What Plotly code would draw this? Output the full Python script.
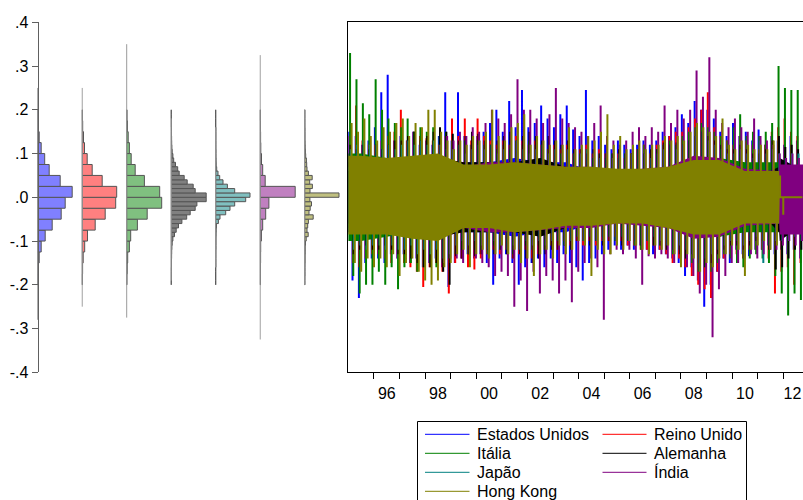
import plotly.graph_objects as go

W, H = 803, 500
FONT = "Liberation Sans, Arial, sans-serif"

# ---------------- series meta ----------------
names = ["Estados Unidos", "Reino Unido", "Itália", "Alemanha", "Japão", "Índia", "Hong Kong"]
line_colors = ["#0000FF", "#FF0000", "#008000", "#000000", "#008080", "#800080", "#808000"]
hist_colors = ["#8080FF", "#FF8080", "#80C080", "#808080", "#80C0C0", "#C080C0", "#C0C080"]

# ---------------- histogram data (bins start at -0.2) ----------------
hist_bin_width = [0.025, 0.025, 0.025, 0.01, 0.01, 0.025, 0.01]
freq_us = [0.3, 0.5, 1.5, 3.5, 7.5, 14.5, 23.5, 27.5, 34.5, 22.5, 11.5, 7.0, 3.5, 1.5, 0.7, 0.3]
freq_uk = [0.2, 0.4, 1.0, 2.5, 5.3, 13.0, 23.0, 33.5, 34.5, 20.0, 10.0, 5.0, 2.3, 1.3, 0.5, 0.2]
freq_it = [0.2, 0.5, 1.0, 2.7, 4.0, 10.7, 20.5, 35.0, 33.0, 17.7, 8.5, 4.5, 2.7, 1.5, 0.7, 0.3]
freq_de = [0, 0.2, 0.2, 0.2, 0.3, 0.3, 0.4, 0.5, 0.7, 1.0, 1.7, 3.3, 5.0, 7.3, 10.7, 15.5, 19.0, 24.0, 25.7, 35.0,
           35.0, 24.0, 22.0, 16.0, 13.0, 8.0, 6.5, 4.3, 2.5, 1.7, 1.0, 0.7, 0.5, 0.4, 0.3, 0.3, 0.2, 0.2, 0, 0]
freq_jp = [0, 0, 0, 0, 0.2, 0.2, 0.2, 0.2, 0.3, 0.3, 0.3, 0.4, 0.5, 0.8, 2.7, 4.3, 10.0, 14.3, 19.0, 30.0,
           34.3, 19.0, 11.7, 7.3, 4.0, 2.3, 1.0, 0.5, 0.4, 0.3, 0.3, 0.2, 0.2, 0.2, 0.2, 0.2, 0, 0, 0, 0]
freq_in = [0.3, 0.3, 0.4, 0.5, 1.2, 2.5, 5.5, 8.7, 35.0, 5.0, 2.5, 1.3, 0.6, 0.4, 0.3, 0.2]
freq_hk = [0.2, 0.2, 0.3, 0.3, 0.3, 0.4, 0.4, 0.5, 0.5, 0.8, 1.5, 3.5, 2.3, 3.0, 3.7, 8.5, 4.3, 5.5, 6.8, 5.2,
           34.3, 5.3, 7.7, 5.0, 7.5, 3.7, 2.3, 2.0, 1.7, 1.0, 0.7, 0.5, 0.4, 0.3, 0.3, 0.3, 0.2, 0.2, 0.2, 0.2]
hist_freqs = [freq_us, freq_uk, freq_it, freq_de, freq_jp, freq_in, freq_hk]
hist_min = [-0.28, -0.25, -0.275, -0.19, -0.16, -0.325, -0.20]
hist_max = [0.25, 0.25, 0.35, 0.18, 0.16, 0.325, 0.20]

y_ticks = [-0.4, -0.3, -0.2, -0.1, 0.0, 0.1, 0.2, 0.3, 0.4]
y_tick_text = ["-.4", "-.3", "-.2", "-.1", ".0", ".1", ".2", ".3", ".4"]
year_ticks = list(range(1996, 2013))
year_label_pos = [1996.5, 1998.5, 2000.5, 2002.5, 2004.5, 2006.5, 2008.5, 2010.5, 2012.36]
year_labels = ["96", "98", "00", "02", "04", "06", "08", "10", "12"]

# ---------------- time series: quarterly spike highs / lows (1995Q1 .. 2012Q3) ----------------
us_hi = [0.15, 0.14, 0.12, 0.13, 0.16, 0.24, 0.28, 0.13, 0.14, 0.13, 0.15, 0.12, 0.13, 0.12, 0.14, 0.24,
         0.13, 0.24, 0.14, 0.12, 0.14, 0.15, 0.17, 0.20, 0.15, 0.22, 0.16, 0.245, 0.16, 0.17, 0.21, 0.18,
         0.16, 0.19, 0.21, 0.155, 0.14, 0.245, 0.13, 0.14, 0.12, 0.11, 0.13, 0.12, 0.11, 0.12, 0.13, 0.12,
         0.13, 0.15, 0.14, 0.16, 0.19, 0.17, 0.22, 0.20, 0.20, 0.18, 0.15, 0.14, 0.17, 0.14, 0.15, 0.13,
         0.155, 0.12, 0.14, 0.13, 0.12, 0.14, 0.13]
us_lo = [-0.19, -0.23, -0.15, -0.14, -0.14, -0.15, -0.13, -0.14, -0.13, -0.15, -0.14, -0.16, -0.15, -0.14, -0.16, -0.205,
         -0.15, -0.14, -0.13, -0.14, -0.13, -0.15, -0.20, -0.14, -0.13, -0.15, -0.20, -0.16, -0.15, -0.14, -0.16, -0.14,
         -0.15, -0.13, -0.15, -0.16, -0.19, -0.15, -0.14, -0.13, -0.12, -0.11, -0.12, -0.11, -0.12, -0.11, -0.12, -0.13,
         -0.12, -0.13, -0.14, -0.15, -0.18, -0.16, -0.19, -0.25, -0.20, -0.17, -0.14, -0.15, -0.12, -0.13, -0.135, -0.12,
         -0.12, -0.11, -0.13, -0.12, -0.13, -0.12, -0.14]
uk_hi = [0.14, 0.21, 0.13, 0.12, 0.12, 0.13, 0.14, 0.15, 0.20, 0.13, 0.15, 0.14, 0.135, 0.13, 0.12, 0.14,
         0.18, 0.14, 0.18, 0.13, 0.18, 0.14, 0.13, 0.12, 0.13, 0.12, 0.14, 0.13, 0.12, 0.13, 0.12, 0.11,
         0.12, 0.11, 0.12, 0.10, 0.11, 0.12, 0.10, 0.11, 0.10, 0.09, 0.10, 0.09, 0.10, 0.11, 0.12, 0.10,
         0.12, 0.13, 0.14, 0.15, 0.15, 0.16, 0.18, 0.20, 0.24, 0.16, 0.14, 0.13, 0.12, 0.14, 0.13, 0.12,
         0.11, 0.12, 0.15, 0.16, 0.18, 0.15, 0.14]
uk_lo = [-0.15, -0.16, -0.14, -0.13, -0.13, -0.14, -0.15, -0.14, -0.15, -0.16, -0.17, -0.205, -0.16, -0.15, -0.17, -0.22,
         -0.15, -0.14, -0.16, -0.165, -0.14, -0.13, -0.12, -0.13, -0.12, -0.14, -0.13, -0.12, -0.14, -0.13, -0.12, -0.11,
         -0.12, -0.10, -0.11, -0.10, -0.11, -0.10, -0.11, -0.10, -0.10, -0.09, -0.10, -0.11, -0.11, -0.12, -0.12, -0.11,
         -0.12, -0.13, -0.15, -0.14, -0.16, -0.18, -0.20, -0.21, -0.23, -0.17, -0.14, -0.13, -0.13, -0.14, -0.12, -0.12,
         -0.12, -0.14, -0.22, -0.17, -0.16, -0.20, -0.15]
it_hi = [0.33, 0.27, 0.215, 0.19, 0.27, 0.20, 0.18, 0.17, 0.16, 0.18, 0.15, 0.16, 0.15, 0.16, 0.14, 0.15,
         0.13, 0.12, 0.13, 0.12, 0.13, 0.12, 0.12, 0.11, 0.12, 0.11, 0.13, 0.12, 0.13, 0.12, 0.12, 0.11,
         0.11, 0.10, 0.11, 0.10, 0.10, 0.11, 0.09, 0.10, 0.09, 0.10, 0.09, 0.10, 0.10, 0.11, 0.12, 0.10,
         0.11, 0.12, 0.13, 0.12, 0.14, 0.15, 0.16, 0.17, 0.16, 0.15, 0.14, 0.13, 0.16, 0.19, 0.14, 0.15,
         0.14, 0.15, 0.17, 0.30, 0.25, 0.245, 0.245]
it_lo = [-0.18, -0.22, -0.20, -0.20, -0.17, -0.20, -0.16, -0.21, -0.16, -0.15, -0.17, -0.16, -0.15, -0.16, -0.15, -0.14,
         -0.13, -0.12, -0.13, -0.12, -0.12, -0.13, -0.11, -0.12, -0.12, -0.13, -0.12, -0.11, -0.12, -0.11, -0.12, -0.11,
         -0.10, -0.11, -0.10, -0.09, -0.10, -0.09, -0.10, -0.09, -0.09, -0.10, -0.09, -0.10, -0.11, -0.12, -0.10, -0.11,
         -0.11, -0.12, -0.13, -0.12, -0.14, -0.15, -0.17, -0.16, -0.17, -0.15, -0.13, -0.14, -0.15, -0.16, -0.14, -0.13,
         -0.14, -0.15, -0.18, -0.22, -0.27, -0.22, -0.235]
de_hi = [0.12, 0.11, 0.12, 0.11, 0.12, 0.11, 0.12, 0.13, 0.13, 0.14, 0.15, 0.13, 0.14, 0.15, 0.16, 0.15,
         0.145, 0.13, 0.14, 0.15, 0.145, 0.13, 0.12, 0.13, 0.14, 0.15, 0.13, 0.14, 0.15, 0.14, 0.13, 0.14,
         0.13, 0.12, 0.13, 0.11, 0.11, 0.10, 0.11, 0.10, 0.10, 0.10, 0.11, 0.10, 0.10, 0.11, 0.10, 0.11,
         0.11, 0.125, 0.12, 0.125, 0.12, 0.13, 0.14, 0.15, 0.14, 0.13, 0.12, 0.11, 0.11, 0.12, 0.11, 0.10,
         0.10, 0.11, 0.13, 0.14, 0.115, 0.12, 0.11]
de_lo = [-0.13, -0.12, -0.11, -0.12, -0.12, -0.11, -0.12, -0.13, -0.13, -0.14, -0.15, -0.16, -0.16, -0.15, -0.17, -0.20,
         -0.135, -0.14, -0.13, -0.135, -0.13, -0.12, -0.13, -0.12, -0.13, -0.14, -0.13, -0.14, -0.15, -0.14, -0.13, -0.12,
         -0.12, -0.11, -0.12, -0.10, -0.10, -0.11, -0.10, -0.11, -0.10, -0.10, -0.11, -0.10, -0.10, -0.11, -0.10, -0.11,
         -0.11, -0.12, -0.12, -0.13, -0.14, -0.13, -0.15, -0.16, -0.15, -0.13, -0.12, -0.11, -0.11, -0.12, -0.11, -0.10,
         -0.10, -0.12, -0.165, -0.16, -0.14, -0.12, -0.12]
jp_hi = [0.11, 0.12, 0.13, 0.12, 0.12, 0.11, 0.12, 0.11, 0.12, 0.13, 0.12, 0.13, 0.12, 0.13, 0.12, 0.11,
         0.11, 0.12, 0.10, 0.11, 0.12, 0.11, 0.12, 0.10, 0.11, 0.12, 0.13, 0.11, 0.10, 0.11, 0.12, 0.10,
         0.11, 0.10, 0.11, 0.10, 0.10, 0.11, 0.10, 0.09, 0.10, 0.09, 0.10, 0.11, 0.10, 0.11, 0.10, 0.09,
         0.10, 0.11, 0.12, 0.11, 0.12, 0.13, 0.14, 0.15, 0.13, 0.12, 0.11, 0.10, 0.10, 0.11, 0.10, 0.09,
         0.13, 0.10, 0.11, 0.10, 0.09, 0.10, 0.10]
jp_lo = [-0.12, -0.11, -0.12, -0.11, -0.11, -0.12, -0.11, -0.12, -0.12, -0.11, -0.13, -0.12, -0.13, -0.12, -0.14, -0.13,
         -0.11, -0.10, -0.11, -0.10, -0.11, -0.12, -0.10, -0.11, -0.12, -0.11, -0.12, -0.10, -0.11, -0.10, -0.11, -0.10,
         -0.10, -0.11, -0.10, -0.09, -0.10, -0.09, -0.10, -0.10, -0.09, -0.10, -0.09, -0.10, -0.10, -0.11, -0.10, -0.09,
         -0.10, -0.11, -0.12, -0.11, -0.12, -0.13, -0.15, -0.14, -0.13, -0.12, -0.11, -0.10, -0.10, -0.11, -0.10, -0.09,
         -0.15, -0.11, -0.10, -0.10, -0.10, -0.09, -0.10]
in_hi = [None] * 14 + [
         0.12, 0.14,
         0.13, 0.15, 0.14, 0.16, 0.15, 0.17, 0.20, 0.18, 0.17, 0.19, 0.27, 0.20, 0.20, 0.18, 0.17, 0.19,
         0.25, 0.18, 0.17, 0.16, 0.15, 0.14, 0.17, 0.21, 0.14, 0.13, 0.12, 0.13, 0.15, 0.16, 0.14, 0.16,
         0.15, 0.21, 0.17, 0.20, 0.18, 0.20, 0.29, 0.23, 0.32, 0.20, 0.17, 0.16, 0.18, 0.16, 0.15, 0.18,
         0.14, 0.13, 0.12, 0.10, 0.09, 0.10, 0.09]
in_lo = [None] * 14 + [
         -0.15, -0.14,
         -0.14, -0.15, -0.13, -0.14, -0.15, -0.16, -0.18, -0.17, -0.18, -0.25, -0.19, -0.26, -0.17, -0.22, -0.18, -0.19,
         -0.22, -0.19, -0.24, -0.17, -0.15, -0.14, -0.16, -0.28, -0.13, -0.12, -0.13, -0.12, -0.14, -0.20, -0.135, -0.14,
         -0.13, -0.14, -0.15, -0.14, -0.16, -0.18, -0.22, -0.20, -0.32, -0.21, -0.18, -0.15, -0.15, -0.14, -0.13, -0.14,
         -0.13, -0.12, -0.12, -0.11, -0.10, -0.11, -0.10]
hk_hi = [0.17, 0.15, 0.18, 0.14, 0.13, 0.16, 0.15, 0.17, 0.18, 0.14, 0.17, 0.16, 0.20, 0.20, 0.15, 0.13,
         0.11, 0.13, 0.12, 0.14, 0.13, 0.15, 0.20, 0.14, 0.13, 0.16, 0.17, 0.19, 0.12, 0.14, 0.13, 0.12,
         0.13, 0.12, 0.16, 0.11, 0.12, 0.14, 0.13, 0.15, 0.19, 0.12, 0.14, 0.11, 0.12, 0.13, 0.11, 0.12,
         0.12, 0.14, 0.13, 0.14, 0.13, 0.15, 0.17, 0.16, 0.15, 0.14, 0.18, 0.12, 0.11, 0.13, 0.12, 0.11,
         0.12, 0.11, 0.13, 0.05, 0.0, 0.0, 0.0]
hk_lo = [-0.15, -0.17, -0.14, -0.16, -0.14, -0.16, -0.13, -0.18, -0.15, -0.14, -0.17, -0.19, -0.20, -0.19, -0.16, -0.15,
         -0.13, -0.12, -0.16, -0.13, -0.12, -0.14, -0.13, -0.11, -0.13, -0.12, -0.15, -0.14, -0.18, -0.13, -0.12, -0.14,
         -0.11, -0.13, -0.12, -0.10, -0.11, -0.18, -0.12, -0.13, -0.13, -0.11, -0.12, -0.10, -0.11, -0.12, -0.13, -0.11,
         -0.12, -0.11, -0.13, -0.16, -0.13, -0.14, -0.17, -0.15, -0.16, -0.14, -0.13, -0.11, -0.12, -0.18, -0.12, -0.11,
         -0.10, -0.12, -0.11, -0.04, 0.0, 0.0, 0.0]
series_hi = [us_hi, uk_hi, it_hi, de_hi, jp_hi, in_hi, hk_hi]
series_lo = [us_lo, uk_lo, it_lo, de_lo, jp_lo, in_lo, hk_lo]

# ---------------- dense core band of each series, read at these dates ----------------
core_times = [1995.0, 1995.5, 1996.5, 1997.5, 1998.5, 1999.5, 2000.5, 2001.5, 2002.5, 2003.5, 2004.5,
              2005.5, 2006.5, 2007.5, 2008.5, 2009.5, 2010.5, 2011.5, 2011.84, 2011.86, 2012.8]
core_hi_us = [0.08, 0.08, 0.08, 0.08, 0.09, 0.08, 0.08, 0.09, 0.08, 0.08, 0.06, 0.05, 0.05, 0.06, 0.09, 0.09, 0.07, 0.07, 0.07, 0.06, 0.06]
core_lo_us = [-0.08, -0.08, -0.08, -0.08, -0.09, -0.08, -0.08, -0.09, -0.08, -0.08, -0.06, -0.05, -0.05, -0.06, -0.09, -0.09, -0.07, -0.07, -0.07, -0.06, -0.06]
core_hi_uk = [0.07, 0.07, 0.07, 0.08, 0.09, 0.08, 0.07, 0.07, 0.07, 0.06, 0.05, 0.05, 0.05, 0.06, 0.09, 0.09, 0.07, 0.07, 0.07, 0.06, 0.06]
core_lo_uk = [-0.07, -0.07, -0.07, -0.08, -0.09, -0.08, -0.07, -0.07, -0.07, -0.06, -0.05, -0.05, -0.05, -0.06, -0.09, -0.09, -0.07, -0.07, -0.07, -0.06, -0.06]
core_hi_it = [0.10, 0.10, 0.09, 0.08, 0.09, 0.07, 0.07, 0.07, 0.07, 0.06, 0.05, 0.05, 0.05, 0.06, 0.09, 0.09, 0.08, 0.08, 0.08, 0.07, 0.07]
core_lo_it = [-0.10, -0.10, -0.09, -0.08, -0.09, -0.07, -0.07, -0.07, -0.07, -0.06, -0.05, -0.05, -0.05, -0.06, -0.09, -0.09, -0.08, -0.08, -0.08, -0.07, -0.07]
core_hi_de = [0.06, 0.06, 0.06, 0.07, 0.09, 0.08, 0.08, 0.08, 0.09, 0.07, 0.06, 0.05, 0.05, 0.06, 0.09, 0.08, 0.06, 0.06, 0.07, 0.09, 0.06]
core_lo_de = [-0.06, -0.06, -0.06, -0.07, -0.09, -0.08, -0.08, -0.08, -0.09, -0.07, -0.06, -0.05, -0.05, -0.06, -0.09, -0.08, -0.06, -0.06, -0.08, -0.10, -0.06]
core_hi_jp = [0.07, 0.07, 0.07, 0.07, 0.08, 0.07, 0.07, 0.07, 0.06, 0.06, 0.06, 0.05, 0.06, 0.06, 0.08, 0.07, 0.06, 0.06, 0.06, 0.05, 0.05]
core_lo_jp = [-0.07, -0.07, -0.07, -0.07, -0.08, -0.07, -0.07, -0.07, -0.06, -0.06, -0.06, -0.05, -0.06, -0.06, -0.08, -0.07, -0.06, -0.06, -0.06, -0.05, -0.05]
core_hi_in = [None, None, None, None, 0.06, 0.07, 0.08, 0.08, 0.075, 0.07, 0.07, 0.06, 0.065, 0.07, 0.095, 0.09, 0.065, 0.06, 0.06, 0.075, 0.075]
core_lo_in = [None, None, None, None, -0.06, -0.07, -0.08, -0.08, -0.075, -0.07, -0.07, -0.06, -0.065, -0.07, -0.095, -0.09, -0.065, -0.06, -0.06, -0.085, -0.085]
core_hi_hk = [0.095, 0.095, 0.09, 0.095, 0.10, 0.075, 0.075, 0.08, 0.075, 0.07, 0.07, 0.065, 0.065, 0.07, 0.085, 0.085, 0.06, 0.06, 0.06, 0.0, 0.0]
core_lo_hk = [-0.085, -0.085, -0.085, -0.095, -0.10, -0.07, -0.07, -0.08, -0.075, -0.065, -0.065, -0.06, -0.06, -0.07, -0.085, -0.085, -0.06, -0.06, -0.06, 0.0, 0.0]
core_hi = [core_hi_us, core_hi_uk, core_hi_it, core_hi_de, core_hi_jp, core_hi_in, core_hi_hk]
core_lo = [core_lo_us, core_lo_uk, core_lo_it, core_lo_de, core_lo_jp, core_lo_in, core_lo_hk]

# ---------------- layout geometry (pixels) ----------------
def fx(px):
    return px / W

def fy(py):
    return 1 - py / H

Y_DOMAIN = [fy(372.3), fy(22.3)]
hist_base_px = [37.7, 82.2, 126.7, 171.2, 215.7, 260.2, 304.7]
HIST_W = 44
TS_LEFT = 348.0
TS_RANGE = [1994.984, 2012.771]
SPIKE_W = 2

fig = go.Figure()

# ---------------- histograms ----------------
for i in range(7):
    ax = i + 3
    bw = hist_bin_width[i]
    freqs = hist_freqs[i]
    centers = [-0.2 + bw * (k + 0.5) for k in range(len(freqs))]
    fig.add_trace(go.Scatter(
        x=[0, 0], y=[hist_min[i], hist_max[i]], mode="lines",
        line=dict(color="#9a9a9a", width=1),
        xaxis=f"x{ax}", yaxis="y", showlegend=False, hoverinfo="skip"))
    fig.add_trace(go.Bar(
        y=centers, x=freqs, orientation="h", width=bw, base=0,
        marker=dict(color=hist_colors[i], line=dict(color="#555555", width=1)),
        xaxis=f"x{ax}", yaxis="y", showlegend=False, hoverinfo="skip", name=names[i]))

# ---------------- time series ----------------
quarter_starts = [1995 + 0.25 * q for q in range(71)]
for i in range(7):
    # dense core band
    cx, chi, clo = [], [], []
    for t, h, l in zip(core_times, core_hi[i], core_lo[i]):
        if h is None:
            continue
        cx.append(t); chi.append(h); clo.append(l)
    fig.add_trace(go.Scatter(x=cx, y=clo, mode="lines", line=dict(width=0, color=line_colors[i]),
                             xaxis="x", yaxis="y2", showlegend=False, hoverinfo="skip"))
    fig.add_trace(go.Scatter(x=cx, y=chi, mode="lines", line=dict(width=0, color=line_colors[i]),
                             fill="tonexty", fillcolor=line_colors[i],
                             xaxis="x", yaxis="y2", showlegend=False, hoverinfo="skip"))
    # return spikes (up and down strokes from zero)
    xs, ys = [], []
    for q, (h, l) in enumerate(zip(series_hi[i], series_lo[i])):
        if h is None:
            continue
        t = quarter_starts[q] + 0.035 + 0.015 * i
        xs += [t, t, t, t + 0.125, t + 0.125, t + 0.125]
        ys += [0, h, 0, 0, l, 0]
    fig.add_trace(go.Scatter(x=xs, y=ys, mode="lines", line=dict(color=line_colors[i], width=SPIKE_W),
                             xaxis="x", yaxis="y2", showlegend=False, hoverinfo="skip", name=names[i]))

# invisible trace for the label axis
fig.add_trace(go.Scatter(x=[year_label_pos[0]], y=[0], mode="markers", marker=dict(opacity=0),
                         xaxis="x2", yaxis="y2", showlegend=False, hoverinfo="skip"))

layout = dict(
    width=W, height=H,
    margin=dict(l=0, r=0, t=0, b=0),
    paper_bgcolor="white", plot_bgcolor="rgba(0,0,0,0)",
    font=dict(family=FONT, size=16, color="black"),
    showlegend=False, barmode="overlay",
    yaxis=dict(domain=Y_DOMAIN, range=[-0.4, 0.4], anchor="free", position=fx(37.5),
               showline=True, linecolor="#606060", linewidth=1, ticks="outside", ticklen=6,
               tickcolor="#606060", tickvals=y_ticks, ticktext=y_tick_text, showgrid=False,
               zeroline=False, automargin=False, tickfont=dict(size=16, color="black")),
    yaxis2=dict(domain=Y_DOMAIN, range=[-0.4, 0.4], anchor="x", showline=True, linecolor="black",
                linewidth=1, ticks="", showticklabels=False, showgrid=False, zeroline=False,
                automargin=False),
    xaxis=dict(domain=[fx(TS_LEFT), 1.0], range=TS_RANGE, anchor="y2", showline=True, mirror=True,
               linecolor="black", linewidth=1, ticks="outside", ticklen=6, tickcolor="black",
               tickvals=year_ticks, showticklabels=False, showgrid=False, zeroline=False,
               automargin=False),
    xaxis2=dict(domain=[fx(TS_LEFT), 1.0], range=TS_RANGE, anchor="y2", overlaying="x", side="bottom",
                showline=False, ticks="outside", ticklen=6, tickcolor="rgba(0,0,0,0)",
                tickvals=year_label_pos, ticktext=year_labels, showgrid=False, zeroline=False,
                automargin=False, ticklabeloverflow="allow", tickfont=dict(size=16, color="black")),
)
for i in range(7):
    b = hist_base_px[i]
    layout[f"xaxis{i + 3}"] = dict(domain=[fx(b - 1), fx(b - 1 + HIST_W)], range=[-1, HIST_W - 1],
                                   anchor="y", visible=False, showgrid=False, zeroline=False)
fig.update_layout(**layout)

# ---------------- legend (drawn manually) ----------------
shapes = [dict(type="rect", xref="paper", yref="paper", x0=fx(417.5), x1=fx(746.5), y0=fy(530), y1=fy(421.5),
               line=dict(color="black", width=1), fillcolor="rgba(0,0,0,0)")]
annotations = []
rows_y = [434.3, 453.3, 472.3, 491.3]
cols = [(425, 469.5, 475), (602.5, 646.5, 652)]
legend_slots = [(0, 0), (0, 1), (1, 0), (1, 1), (2, 0), (2, 1), (3, 0)]
for i, (r, c) in enumerate(legend_slots):
    x0, x1, xt = cols[c]
    y = rows_y[r]
    shapes.append(dict(type="line", xref="paper", yref="paper", x0=fx(x0), x1=fx(x1), y0=fy(y), y1=fy(y),
                       line=dict(color=line_colors[i], width=1)))
    annotations.append(dict(xref="paper", yref="paper", x=fx(xt), y=fy(y), text=names[i], showarrow=False,
                            xanchor="left", yanchor="middle", font=dict(family=FONT, size=16, color="black")))
fig.update_layout(shapes=shapes, annotations=annotations)

fig.write_html("out.html", config={"displayModeBar": False})
